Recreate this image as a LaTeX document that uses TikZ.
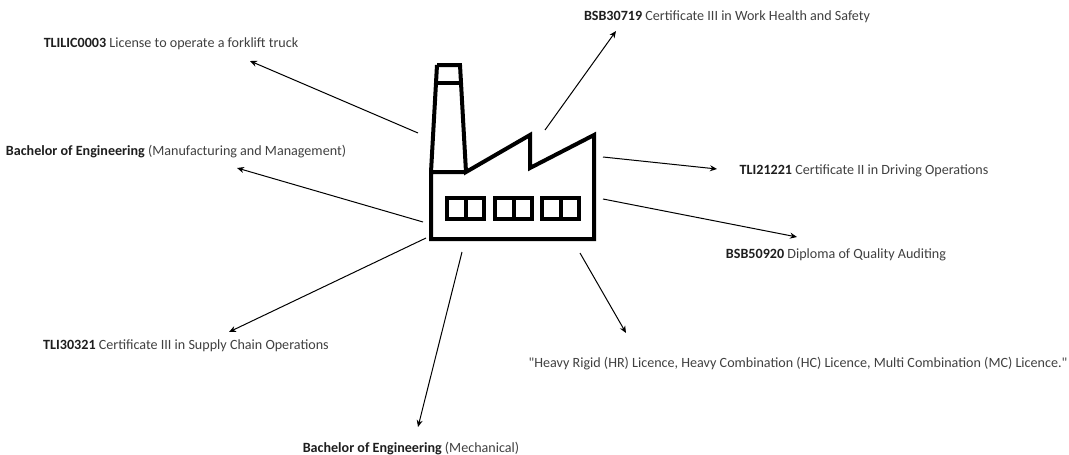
\documentclass[tikz,border=0pt]{standalone}
\usepackage{fontspec}
\setmainfont{Carlito}
\usetikzlibrary{arrows.meta}
\definecolor{labelgray}{HTML}{404040}
\definecolor{codeblack}{HTML}{1E1E1E}
\newcommand{\code}[1]{\textbf{\color{codeblack}#1}}
\begin{document}
\begin{tikzpicture}
[x=1pt,y=-1pt,line width=1pt,
 lbl/.style={inner sep=0pt,yshift=-1.5pt,text=labelgray,font=\fontsize{14.1}{16}\selectfont},
 link/.style={-{Stealth[length=7pt,width=6pt]},line width=1pt}]

\useasboundingbox (0,0) rectangle (1069,455);

% factory
\begin{scope}[line width=4pt,line join=miter]
\draw (437,65) -- (460,65) -- (466,172) -- (530,135) -- (530,168)
  -- (594,135) -- (594,239) -- (431,239) -- (431,172) -- (466,172); %hall
\draw (431,172) -- (437,65); %stack
\draw (435,83) -- (461,83); %band
\foreach \wx in {447,495,542}{
  \draw (\wx,198) rectangle (\wx+37,219);
  \draw (\wx+18.5,198) -- (\wx+18.5,219);
}
\end{scope}

% labels
\node[lbl] (forklift) at (171,42) {\code{TLILIC0003} License to operate a forklift truck};
\node[lbl] (whs) at (727,15.5) {\code{BSB30719} Certificate III in Work Health and Safety};
\node[lbl] (manuf) at (176,150) {\code{Bachelor of Engineering} (Manufacturing and Management)};
\node[lbl] (driving) at (864,169) {\code{TLI21221} Certificate II in Driving Operations};
\node[lbl] (quality) at (836,253) {\code{BSB50920} Diploma of Quality Auditing};
\node[lbl] (supply) at (186,344) {\code{TLI30321} Certificate III in Supply Chain Operations};
\node[lbl] (mech) at (411,447) {\code{Bachelor of Engineering} (Mechanical)};
\node[lbl] (heavy) at (798,362) {\textquotedbl Heavy Rigid (HR) Licence, Heavy Combination (HC) Licence, Multi Combination (MC) Licence.\textquotedbl};

% arrow ends
\coordinate (s1) at (418,133); \coordinate (t1) at (250,61);
\coordinate (s2) at (545,130); \coordinate (t2) at (616,31);
\coordinate (s3) at (423,222); \coordinate (t3) at (237,168);
\coordinate (s4) at (603,157); \coordinate (t4) at (717,169);
\coordinate (s5) at (603,199); \coordinate (t5) at (797,237);
\coordinate (s6) at (426,238); \coordinate (t6) at (229,332);
\coordinate (s7) at (462,252); \coordinate (t7) at (418,427);
\coordinate (s8) at (580,253); \coordinate (t8) at (626,333);

\foreach \i in {1,...,8}
  \draw[link] (s\i) -- (t\i);

\end{tikzpicture}
\end{document}
